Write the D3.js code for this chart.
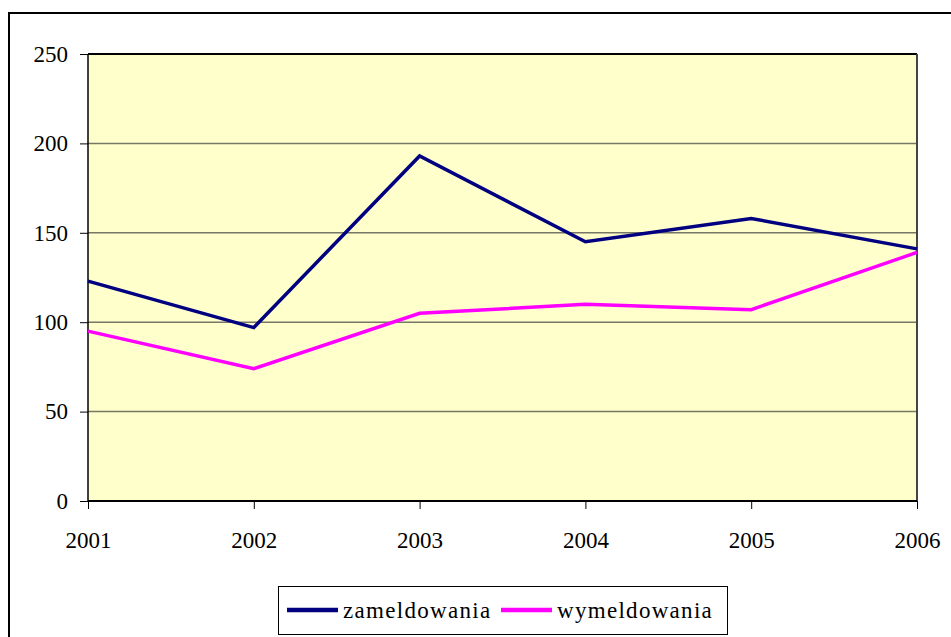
<!DOCTYPE html>
<html>
<head>
<meta charset="utf-8">
<script src="https://cdn.jsdelivr.net/npm/d3@7"></script>
<style>
  body { margin: 0; background: #fff; }
  svg text { font-family: "Times New Roman", "Liberation Serif", Times, "DejaVu Serif", serif !important; fill: #000; }
</style>
</head>
<body>
<div id="chart"></div>
<script>
var years = [2001, 2002, 2003, 2004, 2005, 2006];
var zameldowania = [123, 97, 193, 145, 158, 141];
var wymeldowania = [95, 74, 105, 110, 107, 139];
var yTicks = [0, 50, 100, 150, 200, 250];
var seriesNames = ["zameldowania", "wymeldowania"];
var seriesColors = ["#000080", "#ff00ff"];

var width = 951, height = 637;
var svg = d3.select("#chart").append("svg")
    .attr("width", width).attr("height", height);

// outer chart frame (runs off the right and bottom edges)
svg.append("rect")
    .attr("x", 9).attr("y", 13)
    .attr("width", 1000).attr("height", 700)
    .style("fill", "none").style("stroke", "#000").style("stroke-width", 2);

var plotL = 88, plotR = 917, plotT = 54, plotB = 501;

var x = d3.scalePoint().domain(years).range([plotL, plotR]);
var y = d3.scaleLinear().domain([0, 250]).range([plotB, plotT]);

// plot area
svg.append("rect")
    .attr("x", plotL).attr("y", plotT)
    .attr("width", plotR - plotL).attr("height", plotB - plotT)
    .style("fill", "#ffffcc");

// gridlines
svg.append("g").selectAll("line")
    .data(yTicks.filter(function(d){ return d > 0 && d < 250; }))
    .enter().append("line")
    .attr("x1", plotL).attr("x2", plotR)
    .attr("y1", function(d){ return y(d); })
    .attr("y2", function(d){ return y(d); })
    .style("stroke", "#777766").style("stroke-width", 1.5);

// plot border
svg.append("line").attr("x1", plotL).attr("x2", plotR).attr("y1", plotT).attr("y2", plotT)
    .style("stroke", "#000").style("stroke-width", 2);
svg.append("line").attr("x1", plotR).attr("x2", plotR).attr("y1", plotT).attr("y2", plotB)
    .style("stroke", "#444").style("stroke-width", 2);

// axes
var yAxis = svg.append("g")
    .attr("transform", "translate(" + plotL + ",0)")
    .call(d3.axisLeft(y).tickValues(yTicks).tickSize(8).tickPadding(12));
var xAxis = svg.append("g")
    .attr("transform", "translate(0," + plotB + ")")
    .call(d3.axisBottom(x).tickSize(8).tickPadding(23).tickFormat(d3.format("d")));

[yAxis, xAxis].forEach(function(ax){
    ax.attr("font-family", null).attr("font-size", null);
    ax.selectAll(".tick line").style("stroke", "#000").style("stroke-width", 1);
    ax.selectAll("text").style("font-size", "23px").style("fill", "#000");
});
yAxis.select(".domain").remove();
yAxis.append("line").attr("x1", 0).attr("x2", 0).attr("y1", plotT).attr("y2", plotB)
    .style("stroke", "#000").style("stroke-width", 1.5);
xAxis.select(".domain").remove();
xAxis.append("line").attr("x1", plotL).attr("x2", plotR).attr("y1", 0).attr("y2", 0)
    .style("stroke", "#000").style("stroke-width", 2);

// lines
var line = d3.line()
    .x(function(d, i){ return x(years[i]); })
    .y(function(d){ return y(d); });

[zameldowania, wymeldowania].forEach(function(vals, i){
    svg.append("path")
        .datum(vals)
        .attr("d", line)
        .style("fill", "none")
        .style("stroke", seriesColors[i])
        .style("stroke-width", 3.5)
        .style("stroke-linejoin", "miter");
});

// legend
var legend = svg.append("g");
legend.append("rect")
    .attr("x", 278.5).attr("y", 586.5)
    .attr("width", 449).attr("height", 48)
    .style("fill", "#fff").style("stroke", "#000").style("stroke-width", 1);

var legendX = [287, 501];
seriesNames.forEach(function(name, i){
    legend.append("line")
        .attr("x1", legendX[i]).attr("x2", legendX[i] + 51)
        .attr("y1", 610).attr("y2", 610)
        .style("stroke", seriesColors[i]).style("stroke-width", 4.5);
    legend.append("text")
        .attr("x", legendX[i] + 56).attr("y", 618)
        .style("font-size", "23px")
        .style("letter-spacing", "1.3px")
        .text(name);
});
</script>
</body>
</html>
